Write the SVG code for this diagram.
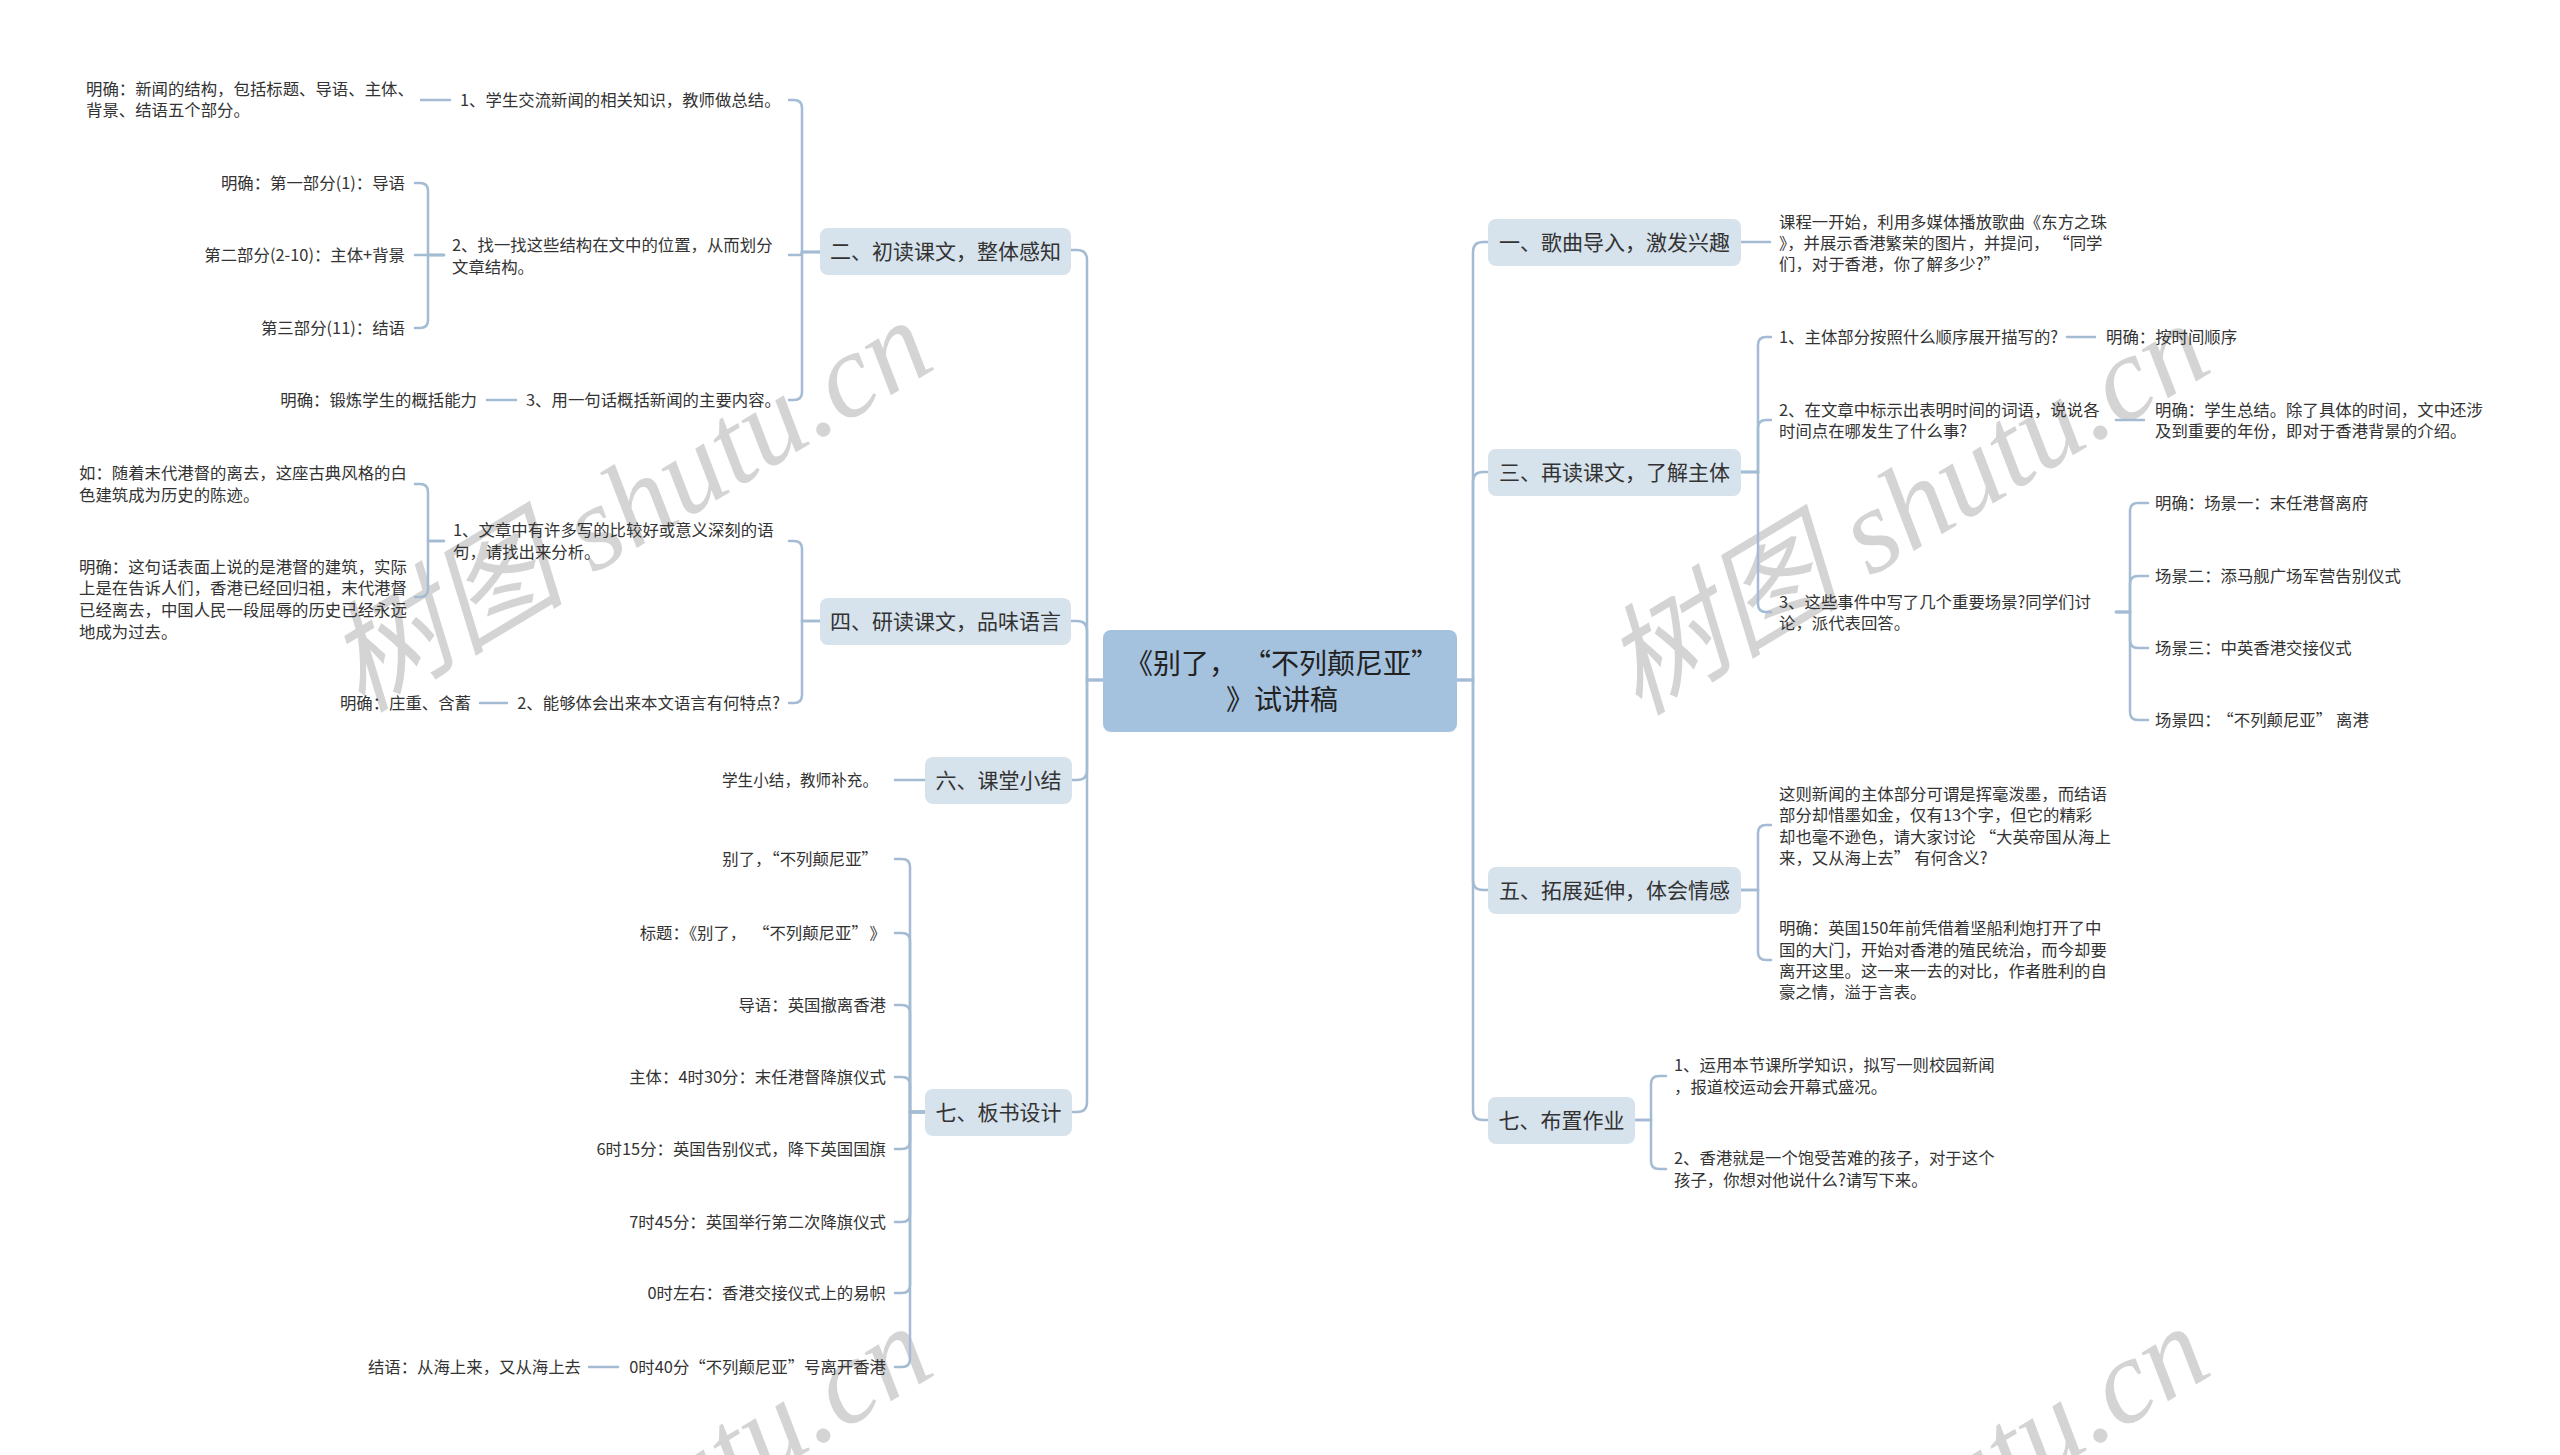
<svg xmlns="http://www.w3.org/2000/svg" width="2560" height="1455" viewBox="0 0 2560 1455">
<style>
text{font-family:"Noto Sans CJK SC","Liberation Sans",sans-serif;fill:#333}
.leaf{font-size:16.4px}
.br{font-size:21px;text-anchor:middle}
.ct{font-size:28px;text-anchor:middle;fill:#222}
.end{text-anchor:end}
.bx{fill:#d6e2ec}
.cbx{fill:#a4c1dd}
.c path{fill:none;stroke:#a3bcd3;stroke-width:2.5;stroke-linecap:round}
.wm{font-family:"Liberation Serif","Noto Sans CJK SC",serif;font-style:italic;font-size:120px;fill:#d4d4d4;text-anchor:middle}
</style>
<rect width="2560" height="1455" fill="#fff"/>
<g id="watermark">
<text class="wm" transform="translate(650,540) rotate(-31)">树图 shutu.cn</text>
<text class="wm" transform="translate(1927,543) rotate(-31)">树图 shutu.cn</text>
<text class="wm" transform="translate(650,1546) rotate(-31)">树图 shutu.cn</text>
<text class="wm" transform="translate(1927,1546) rotate(-31)">树图 shutu.cn</text>
</g>
<g id="connectors" class="c">
<path d="M1103,680 H1087 V260 Q1087,250 1077,250 H1071"/>
<path d="M1103,680 H1087 V631 Q1087,621 1077,621 H1071"/>
<path d="M1103,680 H1087 V770 Q1087,780 1077,780 H1072"/>
<path d="M1103,680 H1087 V1102 Q1087,1112 1077,1112 H1072"/>
<path d="M1457,680 H1473 V252 Q1473,242 1483,242 H1488"/>
<path d="M1457,680 H1473 V482 Q1473,472 1483,472 H1488"/>
<path d="M1457,680 H1473 V880 Q1473,890 1483,890 H1488"/>
<path d="M1457,680 H1473 V1110 Q1473,1120 1483,1120 H1488"/>
<path d="M820,252 H802 V108 Q802,100 794,100 H789"/>
<path d="M820,252 H802 Q802,255 799,255 H789"/>
<path d="M820,252 H802 V392 Q802,400 794,400 H789"/>
<path d="M421,100 H450"/>
<path d="M444,255 H428 V191 Q428,183 420,183 H415"/>
<path d="M444,255 H415"/>
<path d="M444,255 H428 V320 Q428,328 420,328 H415"/>
<path d="M487,400 H516"/>
<path d="M820,621 H802 V549 Q802,541 794,541 H789"/>
<path d="M820,621 H802 V695 Q802,703 794,703 H789"/>
<path d="M444,541 H428 V492 Q428,484 420,484 H415"/>
<path d="M444,541 H428 V589 Q428,597 420,597 H415"/>
<path d="M480,703 H507"/>
<path d="M925,780 H895"/>
<path d="M925,1112 H910 V867 Q910,859 902,859 H895"/>
<path d="M925,1112 H910 V941 Q910,933 902,933 H895"/>
<path d="M925,1112 H910 V1013 Q910,1005 902,1005 H895"/>
<path d="M925,1112 H910 V1085 Q910,1077 902,1077 H895"/>
<path d="M925,1112 H910 V1141 Q910,1149 902,1149 H895"/>
<path d="M925,1112 H910 V1214 Q910,1222 902,1222 H895"/>
<path d="M925,1112 H910 V1285 Q910,1293 902,1293 H895"/>
<path d="M925,1112 H910 V1359 Q910,1367 902,1367 H895"/>
<path d="M589,1367 H618"/>
<path d="M1741,242 H1770"/>
<path d="M1741,472 H1758 V345 Q1758,337 1766,337 H1771"/>
<path d="M1741,472 H1758 V428 Q1758,420 1766,420 H1771"/>
<path d="M1741,472 H1758 V604 Q1758,612 1766,612 H1771"/>
<path d="M2067,337 H2095"/>
<path d="M2116,420 H2144"/>
<path d="M2116,612 H2130 V511 Q2130,503 2138,503 H2148"/>
<path d="M2116,612 H2130 V584 Q2130,576 2138,576 H2148"/>
<path d="M2116,612 H2130 V640 Q2130,648 2138,648 H2148"/>
<path d="M2116,612 H2130 V712 Q2130,720 2138,720 H2148"/>
<path d="M1741,890 H1758 V833 Q1758,825 1766,825 H1771"/>
<path d="M1741,890 H1758 V952 Q1758,960 1766,960 H1771"/>
<path d="M1635,1120 H1651 V1084 Q1651,1076 1659,1076 H1666"/>
<path d="M1635,1120 H1651 V1161 Q1651,1169 1659,1169 H1666"/>
</g>
<g id="central">
<rect class="cbx" x="1103" y="630" width="354" height="102" rx="8"/>
<text class="ct"><tspan x="1282" y="674">《别了，<tspan dx="20">“</tspan>不列颠尼亚”</tspan><tspan x="1282" y="710">》试讲稿</tspan></text>
</g>
<g id="b2">
<rect class="bx" x="820" y="228" width="251" height="47" rx="8"/>
<text class="br" x="945.5" y="259">二、初读课文，整体感知</text>
</g>
<g id="b2-1"><text class="leaf" x="460" y="106">1、学生交流新闻的相关知识，教师做总结。</text></g>
<g id="b2-1a"><text class="leaf"><tspan x="86" y="95">明确：新闻的结构，包括标题、导语、主体、</tspan><tspan x="86" y="116">背景、结语五个部分。</tspan></text></g>
<g id="b2-2"><text class="leaf"><tspan x="452" y="251">2、找一找这些结构在文中的位置，从而划分</tspan><tspan x="452" y="273">文章结构。</tspan></text></g>
<g id="b2-2a"><text class="leaf end" x="405" y="189">明确：第一部分(1)：导语</text></g>
<g id="b2-2b"><text class="leaf end" x="405" y="261">第二部分(2-10)：主体+背景</text></g>
<g id="b2-2c"><text class="leaf end" x="405" y="334">第三部分(11)：结语</text></g>
<g id="b2-3"><text class="leaf" x="526" y="406">3、用一句话概括新闻的主要内容。</text></g>
<g id="b2-3a"><text class="leaf end" x="477" y="406">明确：锻炼学生的概括能力</text></g>
<g id="b4">
<rect class="bx" x="820" y="598" width="251" height="47" rx="8"/>
<text class="br" x="945.5" y="629">四、研读课文，品味语言</text>
</g>
<g id="b4-1"><text class="leaf"><tspan x="453" y="536">1、文章中有许多写的比较好或意义深刻的语</tspan><tspan x="453" y="558">句，请找出来分析。</tspan></text></g>
<g id="b4-1a"><text class="leaf"><tspan x="79" y="479">如：随着末代港督的离去，这座古典风格的白</tspan><tspan x="79" y="501">色建筑成为历史的陈迹。</tspan></text></g>
<g id="b4-1b"><text class="leaf"><tspan x="79" y="573">明确：这句话表面上说的是港督的建筑，实际</tspan><tspan x="79" y="594">上是在告诉人们，香港已经回归祖，末代港督</tspan><tspan x="79" y="616">已经离去，中国人民一段屈辱的历史已经永远</tspan><tspan x="79" y="638">地成为过去。</tspan></text></g>
<g id="b4-2"><text class="leaf end" x="780" y="709">2、能够体会出来本文语言有何特点?</text></g>
<g id="b4-2a"><text class="leaf end" x="471" y="709">明确：庄重、含蓄</text></g>
<g id="b6">
<rect class="bx" x="925" y="757" width="147" height="47" rx="8"/>
<text class="br" x="998.5" y="788">六、课堂小结</text>
</g>
<g id="b6-1"><text class="leaf" x="722" y="786" textLength="156" lengthAdjust="spacingAndGlyphs">学生小结，教师补充。</text></g>
<g id="b7l">
<rect class="bx" x="925" y="1089" width="147" height="47" rx="8"/>
<text class="br" x="998.5" y="1120">七、板书设计</text>
</g>
<g id="b7l-1"><text class="leaf end" x="878" y="865">别了，“不列颠尼亚”</text></g>
<g id="b7l-2"><text class="leaf end" x="886" y="939">标题：《别了，<tspan dx="15">“</tspan>不列颠尼亚”<tspan dx="10">》</tspan></text></g>
<g id="b7l-3"><text class="leaf end" x="886" y="1011">导语：英国撤离香港</text></g>
<g id="b7l-4"><text class="leaf end" x="886" y="1083">主体：4时30分：末任港督降旗仪式</text></g>
<g id="b7l-5"><text class="leaf end" x="886" y="1155">6时15分：英国告别仪式，降下英国国旗</text></g>
<g id="b7l-6"><text class="leaf end" x="886" y="1228">7时45分：英国举行第二次降旗仪式</text></g>
<g id="b7l-7"><text class="leaf end" x="886" y="1299">0时左右：香港交接仪式上的易帜</text></g>
<g id="b7l-8"><text class="leaf end" x="886" y="1373">0时40分“不列颠尼亚”号离开香港</text></g>
<g id="b7l-8a"><text class="leaf end" x="581" y="1373">结语：从海上来，又从海上去</text></g>
<g id="b1">
<rect class="bx" x="1488" y="219" width="253" height="47" rx="8"/>
<text class="br" x="1614.5" y="250">一、歌曲导入，激发兴趣</text>
</g>
<g id="b1-1"><text class="leaf"><tspan x="1779" y="228">课程一开始，利用多媒体播放歌曲《东方之珠</tspan><tspan x="1779" y="249">》，并展示香港繁荣的图片，并提问，<tspan dx="12">“</tspan>同学</tspan><tspan x="1779" y="270">们，对于香港，你了解多少?”</tspan></text></g>
<g id="b3">
<rect class="bx" x="1488" y="449" width="253" height="47" rx="8"/>
<text class="br" x="1614.5" y="480">三、再读课文，了解主体</text>
</g>
<g id="b3-1"><text class="leaf" x="1779" y="343">1、主体部分按照什么顺序展开描写的?</text></g>
<g id="b3-1a"><text class="leaf" x="2106" y="343">明确：按时间顺序</text></g>
<g id="b3-2"><text class="leaf"><tspan x="1779" y="416">2、在文章中标示出表明时间的词语，说说各</tspan><tspan x="1779" y="437">时间点在哪发生了什么事?</tspan></text></g>
<g id="b3-2a"><text class="leaf"><tspan x="2155" y="416">明确：学生总结。除了具体的时间，文中还涉</tspan><tspan x="2155" y="437">及到重要的年份，即对于香港背景的介绍。</tspan></text></g>
<g id="b3-3"><text class="leaf"><tspan x="1779" y="608">3、这些事件中写了几个重要场景?同学们讨</tspan><tspan x="1779" y="629">论，派代表回答。</tspan></text></g>
<g id="b3-3a"><text class="leaf" x="2155" y="509">明确：场景一：末任港督离府</text></g>
<g id="b3-3b"><text class="leaf" x="2155" y="582">场景二：添马舰广场军营告别仪式</text></g>
<g id="b3-3c"><text class="leaf" x="2155" y="654">场景三：中英香港交接仪式</text></g>
<g id="b3-3d"><text class="leaf" x="2155" y="726">场景四：<tspan dx="5">“</tspan>不列颠尼亚”<tspan dx="4">离港</tspan></text></g>
<g id="b5">
<rect class="bx" x="1488" y="867" width="253" height="47" rx="8"/>
<text class="br" x="1614.5" y="898">五、拓展延伸，体会情感</text>
</g>
<g id="b5-1"><text class="leaf"><tspan x="1779" y="800">这则新闻的主体部分可谓是挥毫泼墨，而结语</tspan><tspan x="1779" y="821">部分却惜墨如金，仅有13个字，但它的精彩</tspan><tspan x="1779" y="843">却也毫不逊色，请大家讨论<tspan dx="4">“</tspan>大英帝国从海上</tspan><tspan x="1779" y="864">来，又从海上去”<tspan dx="4">有何含义?</tspan></tspan></text></g>
<g id="b5-2"><text class="leaf"><tspan x="1779" y="934">明确：英国150年前凭借着坚船利炮打开了中</tspan><tspan x="1779" y="956">国的大门，开始对香港的殖民统治，而今却要</tspan><tspan x="1779" y="977">离开这里。这一来一去的对比，作者胜利的自</tspan><tspan x="1779" y="998">豪之情，溢于言表。</tspan></text></g>
<g id="b7r">
<rect class="bx" x="1488" y="1097" width="147" height="47" rx="8"/>
<text class="br" x="1561.5" y="1128">七、布置作业</text>
</g>
<g id="b7r-1"><text class="leaf"><tspan x="1674" y="1071">1、运用本节课所学知识，拟写一则校园新闻</tspan><tspan x="1674" y="1093">，报道校运动会开幕式盛况。</tspan></text></g>
<g id="b7r-2"><text class="leaf"><tspan x="1674" y="1164">2、香港就是一个饱受苦难的孩子，对于这个</tspan><tspan x="1674" y="1186">孩子，你想对他说什么?请写下来。</tspan></text></g>
</svg>
